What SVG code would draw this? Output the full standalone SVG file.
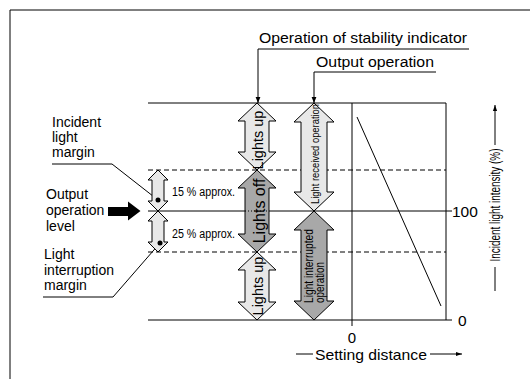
<svg xmlns="http://www.w3.org/2000/svg" width="530" height="379" viewBox="0 0 530 379">
<defs>
<marker id="ah" viewBox="0 0 10 10" refX="10" refY="5" markerWidth="6" markerHeight="6" markerUnits="userSpaceOnUse" orient="auto"><path d="M0,1 L10,5 L0,9 Z" fill="#000"/></marker>
<marker id="ah2" viewBox="0 0 10 10" refX="10" refY="5" markerWidth="8" markerHeight="6" markerUnits="userSpaceOnUse" orient="auto"><path d="M0,1.5 L10,5 L0,8.5 Z" fill="#000"/></marker>
</defs>
<style>
text{font-family:"Liberation Sans",Arial,sans-serif;fill:#000}
.lbl{font-size:14px}
.big{font-size:15.5px}
.ln{stroke:#000;stroke-width:1;fill:none}
.dash{stroke:#000;stroke-width:1;stroke-dasharray:5,3;fill:none}
.lt{fill:#e8e8e8;stroke:#000;stroke-width:1}
.dk{fill:#a8a8a8;stroke:#000;stroke-width:1}
.cond{font-size:12.5px}
</style>
<rect width="530" height="379" fill="#fff"/>
<g id="frame">
<path class="ln" d="M10,10 H530 M10,10 V379"/>
</g>
<g id="chart">
<path class="ln" d="M148,103 H446 M446,103 V320 M148,320 H452 M148,211 H452 M352,103 V326"/>
<path class="dash" d="M148,170 H446 M148,252 H446"/>
<path class="ln" d="M357,117 L441,306"/>
<text class="big" x="452" y="217">100</text>
<text class="big" x="458" y="326">0</text>
<text x="352" y="343" font-size="15" text-anchor="middle">0</text>
</g>
<g id="x-axis-label">
<path class="ln" d="M296,354 H313"/>
<path class="ln" d="M430,354 H462" marker-end="url(#ah2)"/>
<text x="315" y="360" font-size="15" textLength="112" lengthAdjust="spacingAndGlyphs">Setting distance</text>
</g>
<g id="y-axis-label">
<path class="ln" d="M495,291 V267"/>
<path class="ln" d="M495,145 V105" marker-end="url(#ah2)"/>
<text font-size="14" transform="translate(500,205) rotate(-90)" text-anchor="middle" textLength="113" lengthAdjust="spacingAndGlyphs">Incident light intensity (%)</text>
</g>
<g id="connectors">
<path class="ln" d="M469,49 H258 V103" marker-end="url(#ah)"/>
<path class="ln" d="M436,72 H314 V103" marker-end="url(#ah)"/>
<path class="ln" d="M52,164 H112 L158,200"/>
<path class="ln" d="M43,297 H113 L160,243"/>
</g>
<g id="label-stability">
<text class="big" x="259" y="43" textLength="208" lengthAdjust="spacingAndGlyphs">Operation of stability indicator</text>
</g>
<g id="label-output">
<text class="big" x="316" y="67" textLength="118" lengthAdjust="spacingAndGlyphs">Output operation</text>
</g>
<g id="label-incident-margin">
<text class="lbl" x="52" y="127">Incident</text>
<text class="lbl" x="52" y="142">light</text>
<text class="lbl" x="52" y="157">margin</text>
</g>
<g id="label-output-level">
<text class="lbl" x="46" y="199">Output</text>
<text class="lbl" x="46" y="215">operation</text>
<text class="lbl" x="46" y="231">level</text>
<path d="M108,207 H128 V201.5 L140.5,211 L128,220.5 V216 H108 Z" fill="#000"/>
</g>
<g id="label-interruption-margin">
<text class="lbl" x="44" y="259">Light</text>
<text class="lbl" x="44" y="275">interruption</text>
<text class="lbl" x="44" y="290">margin</text>
</g>
<g id="margin-15">
<path class="lt" d="M158,170 L168,180 L164,180 L164,201 L168,201 L158,211 L148,201 L152,201 L152,180 L148,180 Z"/>
<circle cx="158" cy="200" r="2.5" fill="#000"/>
<text class="cond" x="172" y="196" textLength="63" lengthAdjust="spacingAndGlyphs">15 % approx.</text>
</g>
<g id="margin-25">
<path class="lt" d="M158,211 L168,221 L164,221 L164,242 L168,242 L158,252 L148,242 L152,242 L152,221 L148,221 Z"/>
<circle cx="160" cy="243" r="2.5" fill="#000"/>
<text class="cond" x="172" y="238" textLength="63" lengthAdjust="spacingAndGlyphs">25 % approx.</text>
</g>
<g id="lights-up-top">
<path class="lt" d="M257,103 L276,121 L269,121 L269,152 L276,152 L257,170 L238,152 L245,152 L245,121 L238,121 Z"/>
<text font-size="14.5" transform="translate(263,140) rotate(-90)" text-anchor="middle">Lights up</text>
</g>
<g id="lights-off">
<path class="dk" d="M257,170 L276,188 L269,188 L269,234 L276,234 L257,252 L238,234 L245,234 L245,188 L238,188 Z"/>
<path d="M245,211 H269" stroke="#000" stroke-width="1" stroke-dasharray="1,2"/>
<text font-size="16" transform="translate(265,211) rotate(-90)" text-anchor="middle">Lights off</text>
</g>
<g id="lights-up-bottom">
<path class="lt" d="M257,252 L276,270 L269,270 L269,302 L276,302 L257,320 L238,302 L245,302 L245,270 L238,270 Z"/>
<text font-size="14.5" transform="translate(263,286) rotate(-90)" text-anchor="middle">Lights up</text>
</g>
<g id="light-received">
<path class="lt" d="M314,103 L334,122 L327,122 L327,192 L334,192 L314,211 L294,192 L301,192 L301,122 L294,122 Z"/>
<text font-size="11" transform="translate(319,154) rotate(-90)" text-anchor="middle" textLength="100" lengthAdjust="spacingAndGlyphs">Light received operation</text>
</g>
<g id="light-interrupted">
<path class="dk" d="M314,211 L334,230 L327,230 L327,301 L334,301 L314,320 L294,301 L301,301 L301,230 L294,230 Z"/>
<text font-size="12" transform="translate(313,303) rotate(-90)" textLength="74" lengthAdjust="spacingAndGlyphs">Light interrupted</text>
<text font-size="12" transform="translate(324,303) rotate(-90)" textLength="41" lengthAdjust="spacingAndGlyphs">operation</text>
</g>
</svg>
